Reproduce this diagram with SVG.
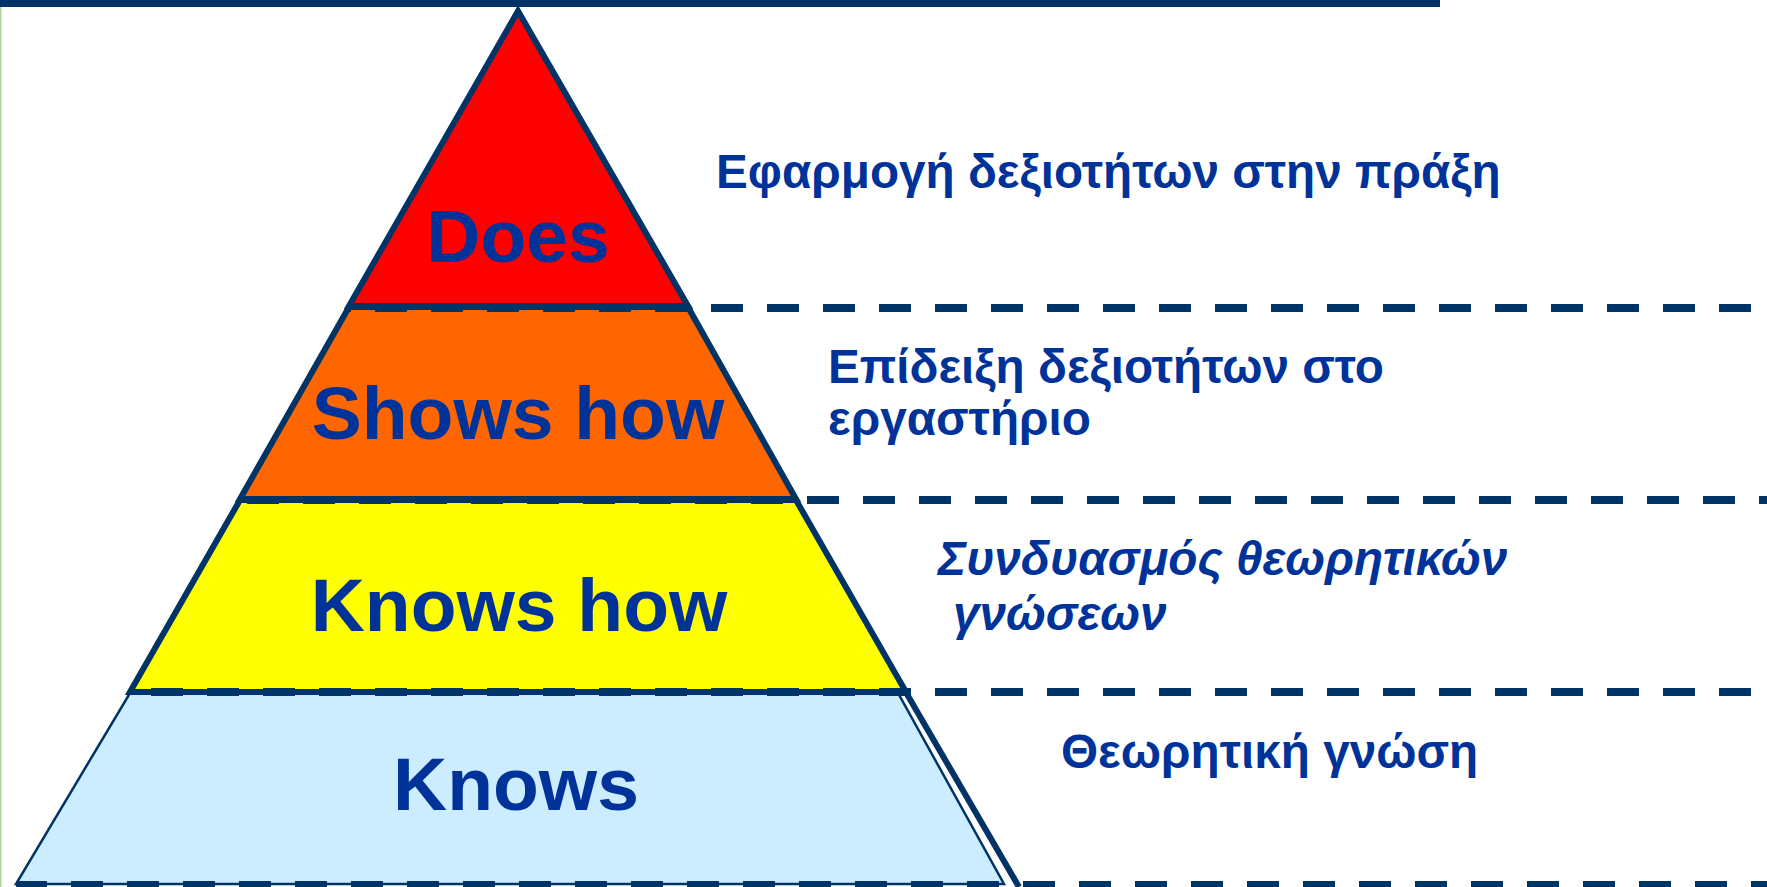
<svg xmlns="http://www.w3.org/2000/svg" width="1767" height="887" viewBox="0 0 1767 887">
<style>
.lvl{stroke:#003366;stroke-width:6;stroke-linejoin:miter}
.thin{stroke:#003366;stroke-width:2.5}
.dash{stroke:#003366;stroke-width:8;stroke-dasharray:32 24;fill:none}
.big{font-family:"Liberation Sans",Arial,sans-serif;font-weight:bold;font-size:75px;fill:#003399;text-anchor:middle}
.lab{font-family:"Liberation Sans",Arial,sans-serif;font-weight:bold;font-size:47.7px;fill:#003399}
.it{font-style:italic}
</style>
<rect x="0" y="0" width="1767" height="887" fill="#ffffff"/>
<rect x="0" y="0" width="1440" height="7" fill="#003366"/>
<line x1="0.75" y1="7" x2="0.75" y2="887" stroke="#a8d5a0" stroke-width="1.5"/>
<g id="knows">
<polygon class="thin" points="130,693 898,693 1004,884 16,884" fill="#CCECFF"/>
<line x1="904" y1="689" x2="1019" y2="887" stroke="#003366" stroke-width="6"/>
<text class="big" x="516" y="810">Knows</text>
</g>
<g id="knows-how">
<polygon class="lvl" points="240,500 796,500 906,692 130,692" fill="#FFFF00"/>
<text class="big" x="519" y="631">Knows how</text>
</g>
<g id="shows-how">
<polygon class="lvl" points="349,307 688,307 796,499 240,499" fill="#FF6600"/>
<text class="big" x="518" y="439">Shows how</text>
</g>
<g id="does">
<polygon class="lvl" points="518,11 349,306 688,306" fill="#FF0000"/>
<text class="big" x="518" y="262">Does</text>
</g>
<g id="connectors">
<line class="dash" x1="349" y1="308" x2="1767" y2="308" stroke-dashoffset="30"/>
<line class="dash" x1="240" y1="500" x2="1767" y2="500" stroke-dashoffset="49"/>
<line class="dash" x1="130" y1="692" x2="1767" y2="692" stroke-dashoffset="35"/>
<line class="dash" x1="16" y1="885" x2="1767" y2="885" stroke-dashoffset="1"/>
</g>
<g id="labels">
<text class="lab" x="716" y="188">Εφαρμογή δεξιοτήτων στην πράξη</text>
<text class="lab" x="828" y="383">Επίδειξη δεξιοτήτων στο</text>
<text class="lab" x="828" y="435">εργαστήριο</text>
<text class="lab it" x="938" y="575">Συνδυασμός θεωρητικών</text>
<text class="lab it" x="953" y="630">γνώσεων</text>
<text class="lab" x="1061" y="768">Θεωρητική γνώση</text>
</g>
</svg>
